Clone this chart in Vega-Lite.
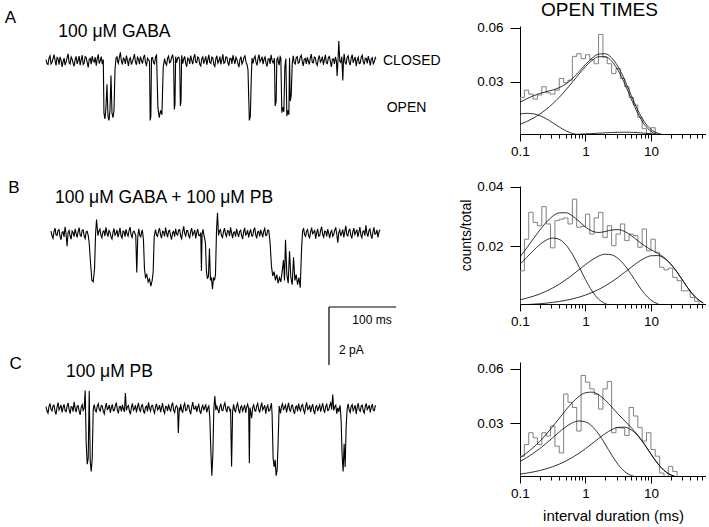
{
"$schema": "https://vega.github.io/schema/vega-lite/v6.json",
"padding": 0,
"spacing": 8,
"config": {
 "view": {"stroke": null},
 "font": "Liberation Sans",
 "axis": {"grid": false, "domainColor": "black", "tickColor": "black", "labelColor": "black", "titleColor": "black", "labelFontSize": 13.5, "titleFontSize": 14, "titleFontWeight": "normal", "labelFont": "Liberation Sans", "titleFont": "Liberation Sans", "tickSize": 5, "labelPadding": 4}
},
"hconcat": [
 {"vconcat": [
  {"width": 450, "height": 160,
   "layer": [
    {"data": {"values": [
{"t":0,"v":0.05},{"t":1.5,"v":-0.09},{"t":3,"v":-0.12},{"t":4.5,"v":0.1},{"t":6,"v":0.18},{"t":7.5,"v":-0.1},{"t":9,"v":-0.05},{"t":10.5,"v":0.08},{"t":12,"v":0.22},{"t":13.5,"v":0.02},{"t":15,"v":-0.15},{"t":16.5,"v":0.12},{"t":18,"v":0.08},{"t":19.5,"v":-0.13},{"t":21,"v":0.14},{"t":22.5,"v":0.03},{"t":24,"v":-0.2},{"t":25.5,"v":-0.02},{"t":27,"v":0.1},{"t":28.5,"v":-0.14},{"t":30,"v":-0.03},{"t":31.5,"v":0.11},{"t":33,"v":0.25},{"t":34.5,"v":-0.06},{"t":36,"v":-0.1},{"t":37.5,"v":0.14},{"t":39,"v":0.06},{"t":40.5,"v":-0.08},{"t":42,"v":-0.18},{"t":43.5,"v":0.05},{"t":45,"v":0.16},{"t":46.5,"v":-0.1},{"t":48,"v":0.02},{"t":49.5,"v":0.17},{"t":51,"v":-0.14},{"t":52.5,"v":0.04},{"t":54,"v":0.2},{"t":55.5,"v":-0.12},{"t":57,"v":-0.07},{"t":58.5,"v":0.15},{"t":60,"v":0.12},{"t":61.5,"v":-0.05},{"t":63,"v":-0.22},{"t":64.5,"v":0.06},{"t":66,"v":0.09},{"t":67.5,"v":-0.11},{"t":69,"v":0.17},{"t":70.5,"v":0.0},{"t":72,"v":-0.04},{"t":73.5,"v":0.13},{"t":75,"v":-0.16},{"t":76.5,"v":0.08},{"t":78,"v":0.23},{"t":79.5,"v":-0.09},{"t":81,"v":0.01},{"t":82.5,"v":0.15},{"t":84,"v":-0.11},
{"t":85.5,"v":0.05},{"t":86.5,"v":-1.8},{"t":88,"v":-2.0},{"t":89.5,"v":-1.6},{"t":91,"v":-0.8},{"t":92.5,"v":-1.9},{"t":94,"v":-2.05},{"t":95.5,"v":-1.7},{"t":97,"v":-0.5},{"t":98.5,"v":-1.8},{"t":100,"v":-1.95},{"t":101.5,"v":-1.7},{"t":103,"v":-0.3},{"t":104.5,"v":0.1},
{"t":106,"v":0.15},{"t":107,"v":-0.02},{"t":108,"v":-0.08},{"t":109.5,"v":0.12},{"t":111,"v":0.3},{"t":112.5,"v":0.0},{"t":114,"v":-0.12},{"t":115.5,"v":0.1},{"t":117,"v":0.06},{"t":118.5,"v":-0.1},{"t":120,"v":0.19},{"t":121.5,"v":0.03},{"t":123,"v":-0.17},{"t":124.5,"v":0.06},{"t":126,"v":0.11},{"t":127.5,"v":-0.12},{"t":129,"v":-0.02},{"t":130.5,"v":0.1},{"t":132,"v":0.24},{"t":133.5,"v":-0.03},{"t":135,"v":-0.13},{"t":136.5,"v":0.13},{"t":138,"v":0.07},{"t":139.5,"v":-0.11},{"t":141,"v":0.15},{"t":142.5,"v":0.02},{"t":144,"v":-0.09},{"t":145.5,"v":0.12},{"t":147,"v":0.21},{"t":148.5,"v":-0.05},{"t":150,"v":-0.18},{"t":151.5,"v":0.1},{"t":153,"v":0.04},
{"t":154.5,"v":0.0},{"t":155.5,"v":-2.05},{"t":156.5,"v":-1.9},{"t":157.5,"v":0.1},{"t":159,"v":0.12},{"t":160.5,"v":-0.06},{"t":162,"v":-0.1},{"t":163.5,"v":0.14},{"t":165,"v":0.2},
{"t":167,"v":-1.6},{"t":169,"v":-1.95},{"t":171,"v":-1.7},{"t":173,"v":-1.85},{"t":175,"v":-0.2},
{"t":177,"v":0.08},{"t":178.5,"v":-0.08},{"t":180,"v":-0.14},{"t":181.5,"v":0.1},{"t":183,"v":0.17},{"t":184.5,"v":-0.06},{"t":186,"v":-0.03},{"t":187.5,"v":0.12},{"t":189,"v":0.22},
{"t":190.5,"v":0.0},{"t":191.5,"v":-1.67},{"t":192.5,"v":-1.5},{"t":193.5,"v":0.15},{"t":195,"v":-0.06},{"t":196.5,"v":0.1},{"t":198,"v":0.13},
{"t":199.5,"v":0.05},{"t":200.5,"v":-1.55},{"t":201.5,"v":-1.4},{"t":202.5,"v":0.2},
{"t":204,"v":-0.09},{"t":205.5,"v":0.06},{"t":207,"v":0.16},{"t":208.5,"v":-0.08},{"t":210,"v":-0.2},{"t":211.5,"v":0.1},{"t":213,"v":0.07},{"t":214.5,"v":-0.1},{"t":216,"v":0.19},{"t":217.5,"v":0.02},{"t":219,"v":-0.11},{"t":220.5,"v":0.12},{"t":222,"v":0.24},{"t":223.5,"v":-0.04},{"t":225,"v":-0.06},{"t":226.5,"v":0.14},{"t":228,"v":0.1},{"t":229.5,"v":-0.11},{"t":231,"v":-0.17},{"t":232.5,"v":0.08},{"t":234,"v":0.14},{"t":235.5,"v":-0.09},{"t":237,"v":0.03},{"t":238.5,"v":0.16},{"t":240,"v":-0.13},{"t":241.5,"v":0.04},{"t":243,"v":0.21},{"t":244.5,"v":-0.05},{"t":246,"v":-0.08},{"t":247.5,"v":0.13},{"t":249,"v":0.11},{"t":250.5,"v":-0.12},{"t":252,"v":-0.19},{"t":253.5,"v":0.07},{"t":255,"v":0.18},{"t":256.5,"v":-0.07},{"t":258,"v":0.0},{"t":259.5,"v":0.15},{"t":261,"v":-0.12},{"t":262.5,"v":0.05},{"t":264,"v":0.23},{"t":265.5,"v":-0.08},{"t":267,"v":-0.05},{"t":268.5,"v":0.14},{"t":270,"v":0.13},{"t":271.5,"v":-0.06},{"t":273,"v":-0.16},{"t":274.5,"v":0.09},{"t":276,"v":0.09},{"t":277.5,"v":-0.1},{"t":279,"v":0.2},{"t":280.5,"v":0.04},{"t":282,"v":-0.1},{"t":283.5,"v":0.13},{"t":285,"v":0.05},{"t":286.5,"v":-0.09},{"t":288,"v":-0.21},{"t":289.5,"v":0.06},{"t":291,"v":0.15},{"t":292.5,"v":-0.1},{"t":294,"v":-0.02},{"t":295.5,"v":0.12},{"t":297,"v":0.18},{"t":298.5,"v":-0.04},{"t":300,"v":-0.12},
{"t":301.5,"v":-0.3},{"t":302.5,"v":-1.2},{"t":303.5,"v":-2.05},{"t":305,"v":-1.9},{"t":306.5,"v":-0.5},{"t":307.5,"v":0.1},
{"t":309,"v":-0.08},{"t":310.5,"v":0.1},{"t":312,"v":0.17},{"t":313.5,"v":-0.05},{"t":315,"v":-0.15},{"t":316.5,"v":0.09},{"t":318,"v":0.22},{"t":319.5,"v":-0.03},{"t":321,"v":0.04},{"t":322.5,"v":0.15},{"t":324,"v":-0.11},{"t":325.5,"v":0.06},{"t":327,"v":0.14},{"t":328.5,"v":-0.08},{"t":330,"v":-0.19},{"t":331.5,"v":0.07},{"t":333,"v":0.08},{"t":334.5,"v":-0.1},{"t":336,"v":0.21},{"t":337.5,"v":0.02},{"t":339,"v":-0.07},
{"t":341,"v":0.1},{"t":342,"v":-1.55},{"t":343.5,"v":-1.4},{"t":344.5,"v":0.05},{"t":346,"v":0.12},{"t":347,"v":-0.06},{"t":348,"v":-0.14},{"t":349.5,"v":0.15},{"t":350.5,"v":0.1},
{"t":352,"v":-1.78},{"t":353.5,"v":-1.6},{"t":355,"v":-1.75},{"t":356.5,"v":-0.2},{"t":358,"v":0.08},
{"t":359.5,"v":-1.9},{"t":361,"v":-1.7},{"t":362.5,"v":-1.85},{"t":363.5,"v":0.1},{"t":364.5,"v":-1.38},{"t":366,"v":-1.2},{"t":367.5,"v":-0.1},
{"t":369,"v":0.18},{"t":370.5,"v":-0.06},{"t":372,"v":-0.1},{"t":373.5,"v":0.12},{"t":375,"v":0.15},{"t":376.5,"v":-0.08},{"t":378,"v":-0.04},{"t":379.5,"v":0.13},{"t":381,"v":0.2},{"t":382.5,"v":-0.02},{"t":384,"v":-0.17},{"t":385.5,"v":0.07},{"t":387,"v":0.09},{"t":388.5,"v":-0.1},{"t":390,"v":0.13},{"t":391.5,"v":0.0},{"t":393,"v":-0.12},{"t":394.5,"v":0.1},{"t":396,"v":0.24},{"t":397.5,"v":-0.05},{"t":399,"v":-0.06},{"t":400.5,"v":0.14},{"t":402,"v":0.11},{"t":403.5,"v":-0.09},{"t":405,"v":-0.15},{"t":406.5,"v":0.08},{"t":408,"v":0.19},{"t":409.5,"v":-0.04},{"t":411,"v":0.02},{"t":412.5,"v":0.15},{"t":414,"v":-0.13},{"t":415.5,"v":0.05},{"t":417,"v":0.21},{"t":418.5,"v":-0.07},{"t":420,"v":-0.09},{"t":421.5,"v":0.12},{"t":423,"v":0.16},{"t":424.5,"v":-0.03},{"t":426,"v":-0.2},{"t":427.5,"v":0.06},{"t":429,"v":0.07},{"t":430.5,"v":-0.1},{"t":432,"v":0.14},{"t":433.5,"v":0.0},{"t":434.5,"v":-0.52},{"t":436,"v":0.1},{"t":437,"v":0.69},{"t":438.5,"v":0.0},{"t":440,"v":-0.05},{"t":441.5,"v":0.15},{"t":443,"v":-0.67},{"t":444,"v":0.0},{"t":445,"v":0.25},{"t":446.5,"v":-0.06},{"t":448,"v":-0.1},{"t":449.5,"v":0.12},{"t":451,"v":0.18},{"t":452.5,"v":-0.04},{"t":454,"v":-0.14},{"t":455.5,"v":0.1},{"t":457,"v":0.22},{"t":458.5,"v":-0.06},{"t":460,"v":0.05},{"t":461.5,"v":0.14},{"t":463,"v":-0.18},{"t":464.5,"v":0.04},{"t":466,"v":0.13},{"t":467.5,"v":-0.09},{"t":469,"v":-0.07},{"t":470.5,"v":0.13},{"t":472,"v":0.2},{"t":473.5,"v":-0.02},{"t":475,"v":-0.12},{"t":476.5,"v":0.1},{"t":478,"v":0.09},{"t":479.5,"v":-0.08},{"t":481,"v":0.17},{"t":482.5,"v":0.03},{"t":484,"v":-0.15},{"t":485.5,"v":0.07},{"t":487,"v":0.11},{"t":488.5,"v":-0.1},{"t":490,"v":-0.04},{"t":491.5,"v":0.12},{"t":492.5,"v":0.08}
    ]},
     "mark": {"type": "line", "color": "black", "strokeWidth": 1.1},
     "encoding": {
      "x": {"field": "t", "type": "quantitative", "scale": {"domain": [-68.66, 603.0], "nice": false, "zero": false}, "axis": null},
      "y": {"field": "v", "type": "quantitative", "scale": {"domain": [-3.448, 2.069], "nice": false, "zero": false}, "axis": null}
     }},
    {"data": {"values": [{}]}, "mark": {"type": "text", "text": "A", "fontSize": 17, "align": "center", "baseline": "middle"}, "encoding": {"x": {"datum": -53}, "y": {"datum": 1.466}}},
    {"data": {"values": [{}]}, "mark": {"type": "text", "text": "100 μM GABA", "fontSize": 17.5, "align": "left", "baseline": "middle"}, "encoding": {"x": {"datum": 18.4}, "y": {"datum": 1.0}}},
    {"data": {"values": [{}]}, "mark": {"type": "text", "text": "CLOSED", "fontSize": 14, "align": "left", "baseline": "middle"}, "encoding": {"x": {"datum": 503}, "y": {"datum": 0}}},
    {"data": {"values": [{}]}, "mark": {"type": "text", "text": "OPEN", "fontSize": 14, "align": "left", "baseline": "middle"}, "encoding": {"x": {"datum": 508.5}, "y": {"datum": -1.631}}}
   ]},
  {"width": 450, "height": 180,
   "layer": [
    {"data": {"values": [
{"t":0,"v":0.1},{"t":1.5,"v":-0.06},{"t":3,"v":-0.15},{"t":4.5,"v":0.08},{"t":6,"v":0.2},{"t":7.5,"v":-0.03},{"t":9,"v":-0.05},{"t":10.5,"v":0.12},{"t":12,"v":0.15},{"t":13.5,"v":-0.08},{"t":15,"v":-0.2},{"t":16.5,"v":0.06},{"t":18,"v":0.08},{"t":19.5,"v":-0.1},{"t":21,"v":0.25},{"t":22.5,"v":0.0},{"t":24,"v":-0.42},{"t":25.5,"v":0.05},{"t":27,"v":0.12},{"t":28.5,"v":-0.07},{"t":30,"v":-0.18},{"t":31.5,"v":0.1},{"t":33,"v":0.05},{"t":34.5,"v":-0.09},{"t":36,"v":0.18},{"t":37.5,"v":0.02},{"t":39,"v":-0.12},{"t":40.5,"v":0.09},{"t":42,"v":0.22},{"t":43.5,"v":-0.04},{"t":45,"v":-0.08},{"t":46.5,"v":0.13},{"t":48,"v":0.14},{"t":49.5,"v":-0.07},{"t":51,"v":-0.16},{"t":52.5,"v":0.07},{"t":54,"v":0.09},{"t":55.5,"v":-0.05},
{"t":57,"v":-0.3},{"t":59,"v":-1.0},{"t":61,"v":-1.6},{"t":63,"v":-1.65},{"t":65,"v":-1.2},{"t":66.5,"v":0.0},{"t":68,"v":0.5},
{"t":70,"v":-0.06},{"t":71.5,"v":0.1},{"t":73,"v":0.17},{"t":74.5,"v":-0.05},{"t":76,"v":-0.13},{"t":77.5,"v":0.08},{"t":79,"v":0.11},{"t":80.5,"v":-0.07},{"t":82,"v":0.23},{"t":83.5,"v":0.03},{"t":85,"v":-0.09},{"t":86.5,"v":0.12},{"t":88,"v":0.06},{"t":89.5,"v":-0.1},{"t":91,"v":-0.17},{"t":92.5,"v":0.05},{"t":94,"v":0.19},{"t":95.5,"v":-0.04},{"t":97,"v":0.02},{"t":98.5,"v":0.14},{"t":100,"v":-0.11},{"t":101.5,"v":0.04},{"t":103,"v":0.21},{"t":104.5,"v":-0.06},{"t":106,"v":-0.14},{"t":107.5,"v":0.1},{"t":109,"v":0.08},{"t":110.5,"v":-0.09},{"t":112,"v":0.16},{"t":113.5,"v":0.01},{"t":115,"v":-0.07},{"t":116.5,"v":0.12},{"t":118,"v":0.24},{"t":119.5,"v":-0.03},{"t":121,"v":-0.12},{"t":122.5,"v":0.07},{"t":124,"v":0.1},
{"t":126.5,"v":-0.05},{"t":128,"v":-1.33},{"t":129.5,"v":-0.1},{"t":131,"v":0.18},{"t":132.5,"v":-0.05},{"t":134,"v":-0.1},{"t":135.5,"v":0.1},{"t":136.5,"v":0.12},
{"t":138,"v":-0.2},{"t":139.5,"v":-1.2},{"t":141,"v":-1.5},{"t":143,"v":-1.4},{"t":145,"v":-1.65},{"t":147,"v":-1.55},{"t":149,"v":-1.8},{"t":151,"v":-1.6},{"t":152.5,"v":-1.3},{"t":154,"v":-0.1},
{"t":156,"v":0.15},{"t":157.5,"v":-0.04},{"t":159,"v":-0.08},{"t":160.5,"v":0.1},{"t":162,"v":0.2},{"t":163.5,"v":-0.02},{"t":165,"v":-0.14},{"t":166.5,"v":0.09},{"t":168,"v":0.07},{"t":169.5,"v":-0.08},{"t":171,"v":0.22},{"t":172.5,"v":0.04},{"t":174,"v":-0.11},{"t":175.5,"v":0.1},{"t":177,"v":0.13},{"t":178.5,"v":-0.06},{"t":180,"v":-0.19},{"t":181.5,"v":0.05},{"t":183,"v":0.09},{"t":184.5,"v":-0.09},{"t":186,"v":0.18},{"t":187.5,"v":0.0},{"t":189,"v":-0.04},{"t":190.5,"v":0.13},{"t":192,"v":0.15},{"t":193.5,"v":-0.07},{"t":195,"v":-0.16},{"t":196.5,"v":0.08},{"t":198,"v":0.26},{"t":199.5,"v":0.02},{"t":201,"v":-0.07},{"t":202.5,"v":0.11},{"t":204,"v":0.12},{"t":205.5,"v":-0.06},{"t":207,"v":-0.13},{"t":208.5,"v":0.09},{"t":210,"v":0.2},{"t":211.5,"v":-0.04},{"t":213,"v":0.03},{"t":214.5,"v":0.14},{"t":216,"v":-0.15},{"t":217.5,"v":0.05},{"t":219,"v":0.17},{"t":220.5,"v":-0.05},{"t":222,"v":-0.06},
{"t":223.5,"v":0.05},{"t":224.5,"v":-1.28},{"t":225.5,"v":0.0},{"t":227,"v":0.16},{"t":228,"v":-0.02},{"t":229,"v":-0.12},
{"t":230.5,"v":-0.3},{"t":232,"v":-1.3},{"t":233.5,"v":-1.55},{"t":235,"v":-1.45},{"t":236.5,"v":-0.5},{"t":238,"v":-1.6},{"t":239.5,"v":-1.5},{"t":241,"v":-1.9},{"t":242.5,"v":-1.5},{"t":244,"v":-1.6},{"t":245.5,"v":-1.4},{"t":247,"v":0.1},{"t":248.5,"v":0.73},
{"t":250,"v":-0.05},{"t":251.5,"v":0.11},{"t":253,"v":0.15},{"t":254.5,"v":-0.06},{"t":256,"v":-0.12},{"t":257.5,"v":0.08},{"t":259,"v":0.2},{"t":260.5,"v":0.0},{"t":262,"v":-0.08},{"t":263.5,"v":0.12},{"t":265,"v":0.1},{"t":266.5,"v":-0.07},{"t":268,"v":0.23},{"t":269.5,"v":0.04},{"t":271,"v":-0.14},{"t":272.5,"v":0.06},{"t":274,"v":0.07},{"t":275.5,"v":-0.09},{"t":277,"v":0.18},{"t":278.5,"v":0.02},{"t":280,"v":-0.1},{"t":281.5,"v":0.09},{"t":283,"v":0.13},{"t":284.5,"v":-0.05},{"t":286,"v":-0.18},{"t":287.5,"v":0.07},{"t":289,"v":0.21},{"t":290.5,"v":-0.03},{"t":292,"v":0.01},{"t":293.5,"v":0.13},{"t":295,"v":-0.12},{"t":296.5,"v":0.05},{"t":298,"v":0.16},{"t":299.5,"v":-0.06},{"t":301,"v":-0.07},{"t":302.5,"v":0.12},{"t":304,"v":0.22},{"t":305.5,"v":-0.02},{"t":307,"v":-0.15},{"t":308.5,"v":0.07},{"t":310,"v":0.09},{"t":311.5,"v":-0.08},{"t":313,"v":0.14},{"t":314.5,"v":0.03},{"t":316,"v":-0.11},{"t":317.5,"v":0.1},{"t":319,"v":0.19},{"t":320.5,"v":-0.05},{"t":322,"v":-0.04},{"t":323.5,"v":0.13},{"t":325,"v":0.12},
{"t":327,"v":-0.3},{"t":329,"v":-1.1},{"t":331,"v":-1.45},{"t":333,"v":-1.3},{"t":335,"v":-1.6},{"t":337,"v":-1.4},{"t":339,"v":-1.7},{"t":341,"v":-1.5},{"t":343,"v":-1.65},{"t":345,"v":-1.3},{"t":347,"v":-0.9},{"t":348.5,"v":-1.6},{"t":350,"v":-0.2},{"t":352,"v":-1.4},{"t":354,"v":-1.7},{"t":356,"v":-0.6},{"t":358,"v":-1.5},{"t":360,"v":-1.75},{"t":362,"v":-0.8},{"t":364,"v":-1.6},{"t":366,"v":-1.4},{"t":368,"v":-1.75},{"t":370,"v":-1.5},{"t":372,"v":-1.85},{"t":374,"v":-0.5},{"t":375.5,"v":0.1},
{"t":377,"v":0.2},{"t":378.5,"v":-0.03},{"t":380,"v":-0.08},{"t":381.5,"v":0.1},{"t":383,"v":0.15},{"t":384.5,"v":-0.06},{"t":386,"v":-0.13},{"t":387.5,"v":0.07},{"t":389,"v":0.22},{"t":390.5,"v":0.01},{"t":392,"v":0.05},{"t":393.5,"v":0.14},{"t":395,"v":-0.16},{"t":396.5,"v":0.04},{"t":398,"v":0.18},{"t":399.5,"v":-0.07},{"t":401,"v":-0.06},{"t":402.5,"v":0.13},{"t":404,"v":0.25},{"t":405.5,"v":-0.02},{"t":407,"v":-0.11},{"t":408.5,"v":0.1},{"t":410,"v":0.09},{"t":411.5,"v":-0.08},{"t":413,"v":0.17},{"t":414.5,"v":0.02},{"t":416,"v":-0.14},{"t":417.5,"v":0.06},{"t":419,"v":0.12},{"t":420.5,"v":-0.08},{"t":422,"v":-0.02},{"t":423.5,"v":0.14},{"t":425,"v":0.21},{"t":426.5,"v":0.0},{"t":428,"v":-0.3},{"t":429.5,"v":0.05},{"t":431,"v":0.14},{"t":432.5,"v":-0.07},{"t":434,"v":0.03},{"t":435.5,"v":0.15},{"t":437,"v":-0.12},{"t":438.5,"v":0.08},{"t":440,"v":0.28},{"t":441.5,"v":-0.03},{"t":443,"v":-0.07},{"t":444.5,"v":0.12},{"t":446,"v":0.16},{"t":447.5,"v":-0.05},{"t":449,"v":-0.15},{"t":450.5,"v":0.08},{"t":452,"v":0.2},{"t":453.5,"v":-0.02},{"t":455,"v":0.06},{"t":456.5,"v":0.15},{"t":458,"v":-0.1},{"t":459.5,"v":0.06},{"t":461,"v":0.24},{"t":462.5,"v":-0.04},{"t":464,"v":-0.13},{"t":465.5,"v":0.09},{"t":467,"v":0.11},{"t":468.5,"v":-0.06},{"t":470,"v":0.3},{"t":471.5,"v":0.02},{"t":473,"v":-0.09},{"t":474.5,"v":0.12},{"t":476,"v":0.17},{"t":477.5,"v":-0.05},{"t":479,"v":-0.16},{"t":480.5,"v":0.07},{"t":482,"v":0.23},{"t":483.5,"v":-0.01},{"t":485,"v":0.02},{"t":486.5,"v":0.14},{"t":488,"v":-0.12},{"t":489.5,"v":0.06},{"t":491,"v":0.15}
    ]},
     "mark": {"type": "line", "color": "black", "strokeWidth": 1.1},
     "encoding": {
      "x": {"field": "t", "type": "quantitative", "scale": {"domain": [-76.12, 595.52], "nice": false, "zero": false}, "axis": null},
      "y": {"field": "v", "type": "quantitative", "scale": {"domain": [-3.69, 2.517], "nice": false, "zero": false}, "axis": null}
     }},
    {"data": {"values": [{}]}, "mark": {"type": "text", "text": "B", "fontSize": 17, "align": "center", "baseline": "middle"}, "encoding": {"x": {"datum": -55.2}, "y": {"datum": 1.596}}},
    {"data": {"values": [{}]}, "mark": {"type": "text", "text": "100 μM GABA + 100 μM PB", "fontSize": 17.5, "align": "left", "baseline": "middle"}, "encoding": {"x": {"datum": 6.0}, "y": {"datum": 1.224}}},
    {"data": {"values": [{}]}, "mark": {"type": "rule", "color": "black", "strokeWidth": 1.2}, "encoding": {"x": {"datum": 414.9}, "x2": {"datum": 514.9}, "y": {"datum": -2.517}}},
    {"data": {"values": [{}]}, "mark": {"type": "rule", "color": "black", "strokeWidth": 1.2}, "encoding": {"x": {"datum": 414.9}, "y": {"datum": -2.517}, "y2": {"datum": -4.517}}},
    {"data": {"values": [{}]}, "mark": {"type": "text", "text": "100 ms", "fontSize": 12, "align": "left", "baseline": "middle"}, "encoding": {"x": {"datum": 449.7}, "y": {"datum": -2.983}}},
    {"data": {"values": [{}]}, "mark": {"type": "text", "text": "2 pA", "fontSize": 12, "align": "left", "baseline": "middle"}, "encoding": {"x": {"datum": 429.9}, "y": {"datum": -4.0}}}
   ]},
  {"width": 450, "height": 187,
   "layer": [
    {"data": {"values": [
{"t":0,"v":0.08},{"t":1.5,"v":-0.07},{"t":3,"v":-0.14},{"t":4.5,"v":0.09},{"t":6,"v":0.19},{"t":7.5,"v":-0.02},{"t":9,"v":-0.06},{"t":10.5,"v":0.11},{"t":12,"v":0.13},{"t":13.5,"v":-0.08},{"t":15,"v":-0.19},{"t":16.5,"v":0.07},{"t":18,"v":0.22},{"t":19.5,"v":-0.03},{"t":21,"v":0.04},{"t":22.5,"v":0.14},{"t":24,"v":-0.12},{"t":25.5,"v":0.05},{"t":27,"v":0.16},{"t":28.5,"v":-0.06},{"t":30,"v":-0.09},{"t":31.5,"v":0.1},{"t":33,"v":0.21},{"t":34.5,"v":-0.02},{"t":36,"v":-0.16},{"t":37.5,"v":0.08},{"t":39,"v":0.07},{"t":40.5,"v":-0.09},{"t":42,"v":0.25},{"t":43.5,"v":0.02},{"t":45,"v":-0.11},{"t":46.5,"v":0.1},{"t":48,"v":0.12},{"t":49.5,"v":-0.07},{"t":51,"v":-0.2},{"t":52.5,"v":0.06},{"t":54,"v":0.15},{"t":55.5,"v":-0.05},{"t":57,"v":0.02},
{"t":58.5,"v":0.64},{"t":60,"v":-1.2},{"t":61.5,"v":-1.9},{"t":63,"v":-1.7},{"t":64.5,"v":0.62},{"t":66,"v":-1.8},{"t":67.5,"v":-2.15},{"t":69,"v":-1.7},{"t":70.5,"v":0.0},
{"t":72,"v":0.15},{"t":73.5,"v":-0.05},{"t":75,"v":-0.1},{"t":76.5,"v":0.1},{"t":78,"v":0.18},{"t":79.5,"v":-0.03},{"t":81,"v":-0.07},{"t":82.5,"v":0.12},{"t":84,"v":0.11},{"t":85.5,"v":-0.08},{"t":87,"v":-0.17},{"t":88.5,"v":0.06},{"t":90,"v":0.2},{"t":91.5,"v":-0.02},{"t":93,"v":0.03},{"t":94.5,"v":0.14},{"t":96,"v":-0.13},{"t":97.5,"v":0.05},{"t":99,"v":0.16},{"t":100.5,"v":-0.06},{"t":102,"v":-0.05},{"t":103.5,"v":0.12},{"t":105,"v":0.22},{"t":106.5,"v":-0.04},{"t":108,"v":-0.15},{"t":109.5,"v":0.08},{"t":111,"v":0.09},{"t":112.5,"v":-0.08},{"t":114,"v":0.14},{"t":115.5,"v":0.0},{"t":117,"v":-0.1},{"t":118.5,"v":0.55},{"t":120,"v":-0.05},{"t":121.5,"v":0.08},{"t":123,"v":0.12},{"t":124.5,"v":-0.07},{"t":126,"v":-0.18},{"t":127.5,"v":0.06},{"t":129,"v":0.19},{"t":130.5,"v":-0.04},{"t":132,"v":0.01},{"t":133.5,"v":0.13},{"t":135,"v":-0.12},{"t":136.5,"v":0.07},{"t":138,"v":0.21},{"t":139.5,"v":-0.03},{"t":141,"v":-0.08},{"t":142.5,"v":0.11},{"t":144,"v":0.15},{"t":145.5,"v":-0.06},{"t":147,"v":-0.16},{"t":148.5,"v":0.07},{"t":150,"v":0.1},{"t":151.5,"v":-0.08},{"t":153,"v":0.23},{"t":154.5,"v":0.02},{"t":156,"v":-0.07},{"t":157.5,"v":0.11},{"t":159,"v":0.13},{"t":160.5,"v":-0.05},{"t":162,"v":-0.14},{"t":163.5,"v":0.08},{"t":165,"v":0.18},{"t":166.5,"v":-0.03},{"t":168,"v":0.02},{"t":169.5,"v":0.13},{"t":171,"v":-0.11},{"t":172.5,"v":0.04},{"t":174,"v":0.2},{"t":175.5,"v":-0.06},{"t":177,"v":-0.15},{"t":178.5,"v":0.09},{"t":180,"v":0.08},{"t":181.5,"v":-0.07},{"t":183,"v":0.16},{"t":184.5,"v":0.01},{"t":186,"v":-0.09},{"t":187.5,"v":0.12},{"t":189,"v":0.22},{"t":190.5,"v":-0.04},{"t":192,"v":-0.12},{"t":193.5,"v":0.08},{"t":195,"v":0.11},{"t":196.5,"v":0.0},{"t":197.5,"v":-0.83},{"t":199,"v":0.05},{"t":200,"v":-0.06},{"t":201,"v":0.17},{"t":202.5,"v":-0.03},{"t":204,"v":-0.13},{"t":205.5,"v":0.1},{"t":207,"v":0.19},{"t":208.5,"v":-0.05},{"t":210,"v":-0.04},{"t":211.5,"v":0.13},{"t":213,"v":0.12},{"t":214.5,"v":-0.07},{"t":216,"v":-0.18},{"t":217.5,"v":0.07},{"t":219,"v":0.24},{"t":220.5,"v":0.01},{"t":222,"v":0.0},{"t":223.5,"v":0.12},{"t":225,"v":-0.1},{"t":226.5,"v":0.06},{"t":228,"v":0.15},{"t":229.5,"v":-0.06},{"t":231,"v":-0.17},{"t":232.5,"v":0.05},{"t":234,"v":0.13},{"t":235.5,"v":-0.05},{"t":237,"v":0.06},{"t":238.5,"v":0.14},{"t":240,"v":-0.12},{"t":241.5,"v":0.03},{"t":243,"v":0.1},
{"t":244.5,"v":-0.3},{"t":246,"v":-1.4},{"t":247.5,"v":-2.3},{"t":249,"v":-1.6},{"t":250.5,"v":0.0},{"t":252,"v":0.45},
{"t":253.5,"v":-0.04},{"t":255,"v":0.1},{"t":256.5,"v":-0.02},{"t":258,"v":-0.14},{"t":259.5,"v":0.07},{"t":261,"v":0.18},{"t":262.5,"v":-0.04},{"t":264,"v":-0.06},{"t":265.5,"v":0.12},{"t":267,"v":0.21},{"t":268.5,"v":0.0},{"t":270,"v":-0.11},{"t":271.5,"v":0.08},{"t":273,"v":0.07},{"t":274.5,"v":-0.06},{"t":275.5,"v":0.0},{"t":277,"v":-1.98},{"t":278.5,"v":-0.1},{"t":280,"v":0.16},{"t":281.5,"v":-0.04},{"t":283,"v":-0.09},{"t":284.5,"v":0.11},{"t":286,"v":0.2},{"t":287.5,"v":-0.02},{"t":289,"v":-0.15},{"t":290.5,"v":0.06},{"t":292,"v":0.11},{"t":293.5,"v":-0.07},{"t":295,"v":0.03},{"t":296.5,"v":0.14},{"t":298,"v":-0.13},{"t":299.5,"v":0.06},{"t":301,"v":0.17},{"t":302.5,"v":0.0},{"t":303.5,"v":-1.87},{"t":304.5,"v":0.05},{"t":305.5,"v":-0.1},{"t":307,"v":-0.32},{"t":308.5,"v":0.06},{"t":310,"v":0.14},{"t":311.5,"v":-0.05},{"t":313,"v":-0.08},{"t":314.5,"v":0.11},{"t":316,"v":0.19},{"t":317.5,"v":-0.02},{"t":319,"v":-0.12},{"t":320.5,"v":0.08},{"t":322,"v":0.22},{"t":323.5,"v":-0.03},{"t":325,"v":0.04},{"t":326.5,"v":0.13},{"t":328,"v":-0.16},{"t":329.5,"v":0.05},{"t":331,"v":0.13},{"t":332.5,"v":-0.07},{"t":334,"v":-0.05},
{"t":336.5,"v":0.2},{"t":337.5,"v":-0.2},{"t":339,"v":-1.7},{"t":340.5,"v":-2.0},{"t":342,"v":-1.75},{"t":343.5,"v":-2.3},{"t":345,"v":-2.1},{"t":346.5,"v":-1.1},{"t":348,"v":0.1},
{"t":350,"v":-0.15},{"t":351.5,"v":0.09},{"t":353,"v":0.18},{"t":354.5,"v":-0.04},{"t":356,"v":0.06},{"t":357.5,"v":0.14},{"t":359,"v":-0.12},{"t":360.5,"v":0.05},{"t":362,"v":0.21},{"t":363.5,"v":-0.03},{"t":365,"v":-0.08},{"t":366.5,"v":0.11},{"t":368,"v":0.14},{"t":369.5,"v":-0.06},{"t":371,"v":-0.17},{"t":372.5,"v":0.07},{"t":374,"v":0.1},{"t":375.5,"v":-0.08},{"t":377,"v":0.19},{"t":378.5,"v":0.01},{"t":380,"v":-0.06},{"t":381.5,"v":0.12},{"t":383,"v":0.15},{"t":384.5,"v":-0.05},{"t":386,"v":-0.14},{"t":387.5,"v":0.08},{"t":389,"v":0.23},{"t":390.5,"v":-0.02},{"t":392,"v":0.02},{"t":393.5,"v":0.13},{"t":395,"v":-0.11},{"t":396.5,"v":0.06},{"t":398,"v":0.17},{"t":399.5,"v":-0.05},{"t":401,"v":-0.18},{"t":402.5,"v":0.07},{"t":404,"v":0.12},{"t":405.5,"v":-0.07},{"t":407,"v":0.05},{"t":408.5,"v":0.14},{"t":410,"v":-0.09},{"t":411.5,"v":0.06},{"t":413,"v":0.2},{"t":414.5,"v":-0.03},{"t":416,"v":-0.13},{"t":417.5,"v":0.09},{"t":419,"v":0.16},{"t":420.5,"v":-0.05},{"t":422,"v":-0.04},{"t":423.5,"v":0.12},{"t":425,"v":0.21},{"t":426.5,"v":-0.02},{"t":428,"v":0.5},{"t":429.5,"v":-0.05},{"t":431,"v":0.08},{"t":432.5,"v":0.13},{"t":434,"v":-0.16},{"t":435.5,"v":0.04},{"t":437,"v":-0.1},{"t":438,"v":0.05},{"t":439,"v":0.12},
{"t":440.5,"v":-0.4},{"t":442,"v":-1.6},{"t":443.5,"v":-2.15},{"t":445,"v":-1.2},{"t":446.5,"v":-2.0},{"t":448,"v":-0.6},{"t":449.5,"v":0.0},
{"t":451,"v":0.18},{"t":452.5,"v":-0.04},{"t":454,"v":-0.12},{"t":455.5,"v":0.09},{"t":457,"v":0.15},{"t":458.5,"v":-0.06},{"t":460,"v":0.03},{"t":461.5,"v":0.13},{"t":463,"v":-0.17},{"t":464.5,"v":0.06},{"t":466,"v":0.2},{"t":467.5,"v":-0.03},{"t":469,"v":-0.08},{"t":470.5,"v":0.11},{"t":472,"v":0.13},{"t":473.5,"v":-0.06},{"t":475,"v":-0.14},{"t":476.5,"v":0.08},{"t":478,"v":0.19},{"t":479.5,"v":-0.02},{"t":481,"v":0.04},{"t":482.5,"v":0.13},{"t":484,"v":-0.12},{"t":485.5,"v":0.06},{"t":487,"v":0.17},{"t":488.5,"v":-0.04},{"t":490,"v":-0.06},{"t":491.5,"v":0.11},{"t":492.5,"v":0.1}
    ]},
     "mark": {"type": "line", "color": "black", "strokeWidth": 1.1},
     "encoding": {
      "x": {"field": "t", "type": "quantitative", "scale": {"domain": [-68.66, 603.0], "nice": false, "zero": false}, "axis": null},
      "y": {"field": "v", "type": "quantitative", "scale": {"domain": [-4.103, 2.345], "nice": false, "zero": false}, "axis": null}
     }},
    {"data": {"values": [{}]}, "mark": {"type": "text", "text": "C", "fontSize": 17, "align": "center", "baseline": "middle"}, "encoding": {"x": {"datum": -45.5}, "y": {"datum": 1.552}}},
    {"data": {"values": [{}]}, "mark": {"type": "text", "text": "100 μM PB", "fontSize": 17.5, "align": "left", "baseline": "middle"}, "encoding": {"x": {"datum": 29.9}, "y": {"datum": 1.283}}}
   ]}
 ], "spacing": 0, "bounds": "flush"},
 {"vconcat": [
  {"width": 186, "height": 25, "data": {"values": [{}]}, "mark": {"type": "text", "text": ""}},
  {"width": 186, "height": 108,
   "title": {"text": "OPEN TIMES", "fontSize": 19, "fontWeight": "normal", "color": "black", "dx": -13.5, "offset": 1},
   "encoding": {
    "x": {"field": "t", "type": "quantitative", "scale": {"type": "log", "domain": [0.1, 69.5], "nice": false},
     "axis": {"values": [0.1,0.2,0.3,0.4,0.5,0.6,0.7,0.8,0.9,1,2,3,4,5,6,7,8,9,10,20,30,40,50,60], "title": null, "labelOverlap": false, "labelFlush": false, "labelPadding": 3,
      "labelExpr": "datum.value == 0.1 ? '0.1' : datum.value == 1 ? '1' : datum.value == 10 ? '10' : ''",
      "tickSize": {"condition": {"test": "datum.value == 0.1 || datum.value == 1 || datum.value == 10", "value": 7}, "value": 4}}},
    "y": {"field": "v", "type": "quantitative", "scale": {"domain": [0.001, 0.0611], "nice": false, "zero": false}, "axis": {"values": [0.03, 0.06], "format": ".2f", "title": null, "tickSize": 10, "labelPadding": 7}}
   },
   "layer": [
    {"data": {"values": [
{"t":0.1,"v":0},{"t":0.1,"v":0.0214},{"t":0.11659,"v":0.0254},{"t":0.13594,"v":0.0232},{"t":0.15849,"v":0.0204},{"t":0.18478,"v":0.0227},{"t":0.21544,"v":0.0273},{"t":0.25119,"v":0.0239},{"t":0.29286,"v":0.0232},{"t":0.34146,"v":0.0254},{"t":0.39811,"v":0.0319},{"t":0.46416,"v":0.0295},{"t":0.54117,"v":0.0309},{"t":0.63096,"v":0.0442},{"t":0.73564,"v":0.0457},{"t":0.8577,"v":0.0429},{"t":1.0,"v":0.0451},{"t":1.1659,"v":0.0424},{"t":1.3594,"v":0.0401},{"t":1.5849,"v":0.0564},{"t":1.8478,"v":0.0438},{"t":2.1544,"v":0.0401},{"t":2.5119,"v":0.0346},{"t":2.9286,"v":0.0374},{"t":3.4146,"v":0.0319},{"t":3.9811,"v":0.0273},{"t":4.6416,"v":0.0214},{"t":5.4117,"v":0.0171},{"t":6.3096,"v":0.0103},{"t":7.3564,"v":0.004},{"t":8.577,"v":0.001},{"t":10.0,"v":0.0045},{"t":11.659,"v":0}
    ]},
     "mark": {"type": "line", "interpolate": "step-after", "color": "#808080", "strokeWidth": 1, "clip": true},
     "encoding": {"order": {"value": null}}},
    {"data": {"values": [
{"t":0.1,"c1":0.01211,"c2":0.00636,"c3":0.00013,"tot":0.0186},
{"t":0.1259,"c1":0.01249,"c2":0.0079,"c3":0.00017,"tot":0.02056},
{"t":0.1585,"c1":0.01224,"c2":0.00976,"c3":0.00021,"tot":0.02221},
{"t":0.1995,"c1":0.01124,"c2":0.01201,"c3":0.00026,"tot":0.02351},
{"t":0.2512,"c1":0.00951,"c2":0.01469,"c3":0.00032,"tot":0.02452},
{"t":0.3162,"c1":0.00726,"c2":0.01783,"c3":0.0004,"tot":0.02549},
{"t":0.3981,"c1":0.00487,"c2":0.02144,"c3":0.00049,"tot":0.0268},
{"t":0.5012,"c1":0.00278,"c2":0.02548,"c3":0.0006,"tot":0.02886},
{"t":0.631,"c1":0.00129,"c2":0.02984,"c3":0.00073,"tot":0.03186},
{"t":0.7943,"c1":0.00046,"c2":0.03428,"c3":0.00089,"tot":0.03563},
{"t":1.0,"c1":0.00012,"c2":0.03848,"c3":0.00106,"tot":0.03966},
{"t":1.259,"c1":0.00002,"c2":0.04192,"c3":0.00125,"tot":0.04319},
{"t":1.585,"c1":0,"c2":0.04399,"c3":0.00145,"tot":0.04544},
{"t":1.995,"c1":0,"c2":0.04403,"c3":0.00165,"tot":0.04568},
{"t":2.512,"c1":0,"c2":0.04154,"c3":0.00182,"tot":0.04336},
{"t":3.162,"c1":0,"c2":0.03636,"c3":0.00195,"tot":0.03831},
{"t":3.981,"c1":0,"c2":0.02898,"c3":0.002,"tot":0.03098},
{"t":5.012,"c1":0,"c2":0.0205,"c3":0.00195,"tot":0.02245},
{"t":6.31,"c1":0,"c2":0.01251,"c3":0.00177,"tot":0.01428},
{"t":7.943,"c1":0,"c2":0.00632,"c3":0.00148,"tot":0.0078},
{"t":10.0,"c1":0,"c2":0.00252,"c3":0.00112,"tot":0.00364},
{"t":12.59,"c1":0,"c2":0.00075,"c3":0.00074,"tot":0.00149},
{"t":15.85,"c1":0,"c2":0.00015,"c3":0.00041,"tot":0.00056},
{"t":19.95,"c1":0,"c2":0.00002,"c3":0.00019,"tot":0.00021}
    ]},
     "transform": [{"fold": ["c1","c2","c3","tot"], "as": ["k","v"]}],
     "mark": {"type": "line", "interpolate": "monotone", "color": "black", "clip": true},
     "encoding": {"detail": {"field": "k"}, "strokeWidth": {"field": "k", "type": "ordinal", "scale": {"domain": ["c1","c2","c3","tot"], "range": [0.8,0.8,0.8,1.8]}, "legend": null}}}
   ]},
  {"width": 186, "height": 52, "data": {"values": [{}]}, "mark": {"type": "text", "text": ""}},
  {"width": 186, "height": 118,
   "encoding": {
    "x": {"field": "t", "type": "quantitative", "scale": {"type": "log", "domain": [0.1, 69.5], "nice": false},
     "axis": {"values": [0.1,0.2,0.3,0.4,0.5,0.6,0.7,0.8,0.9,1,2,3,4,5,6,7,8,9,10,20,30,40,50,60], "title": null, "labelOverlap": false, "labelFlush": false, "labelPadding": 3,
      "labelExpr": "datum.value == 0.1 ? '0.1' : datum.value == 1 ? '1' : datum.value == 10 ? '10' : ''",
      "tickSize": {"condition": {"test": "datum.value == 0.1 || datum.value == 1 || datum.value == 10", "value": 7}, "value": 4}}},
    "y": {"field": "v", "type": "quantitative", "scale": {"domain": [0.0007, 0.0402], "nice": false, "zero": false}, "axis": {"values": [0.02, 0.04], "format": ".2f", "tickSize": 10, "labelPadding": 7, "title": "counts/total", "titleX": -54, "titleY": 49, "titleBaseline": "middle", "titleFontSize": 14}}
   },
   "layer": [
    {"data": {"values": [
{"t":0.1,"v":0},{"t":0.1,"v":0.0118},{"t":0.11659,"v":0.0224},{"t":0.13594,"v":0.0314},{"t":0.15849,"v":0.028},{"t":0.18478,"v":0.0269},{"t":0.21544,"v":0.0333},{"t":0.25119,"v":0.0275},{"t":0.29286,"v":0.0195},{"t":0.34146,"v":0.0286},{"t":0.39811,"v":0.0291},{"t":0.46416,"v":0.0295},{"t":0.54117,"v":0.0275},{"t":0.63096,"v":0.0358},{"t":0.73564,"v":0.0264},{"t":0.8577,"v":0.0266},{"t":1.0,"v":0.0308},{"t":1.1659,"v":0.0241},{"t":1.3594,"v":0.0295},{"t":1.5849,"v":0.0314},{"t":1.8478,"v":0.023},{"t":2.1544,"v":0.0269},{"t":2.5119,"v":0.0202},{"t":2.9286,"v":0.0241},{"t":3.4146,"v":0.0275},{"t":3.9811,"v":0.0219},{"t":4.6416,"v":0.0241},{"t":5.4117,"v":0.0236},{"t":6.3096,"v":0.0197},{"t":7.3564,"v":0.0258},{"t":8.577,"v":0.0185},{"t":10.0,"v":0.0224},{"t":11.659,"v":0.018},{"t":13.594,"v":0.013},{"t":15.849,"v":0.0121},{"t":18.478,"v":0.0127},{"t":21.544,"v":0.0096},{"t":25.119,"v":0.0085},{"t":29.286,"v":0.0051},{"t":34.146,"v":0.0051},{"t":39.811,"v":0.0029},{"t":46.416,"v":0.0016},{"t":54.117,"v":0}
    ]},
     "mark": {"type": "line", "interpolate": "step-after", "color": "#808080", "strokeWidth": 1, "clip": true},
     "encoding": {"order": {"value": null}}},
    {"data": {"values": [
{"t":0.1,"c1":0.01396,"c2":0.00212,"c3":0.0004,"tot":0.01648},
{"t":0.1259,"c1":0.01624,"c2":0.00264,"c3":0.0005,"tot":0.01938},
{"t":0.1585,"c1":0.0185,"c2":0.00327,"c3":0.00063,"tot":0.0224},
{"t":0.1995,"c1":0.02054,"c2":0.00403,"c3":0.00079,"tot":0.02536},
{"t":0.2512,"c1":0.02208,"c2":0.00496,"c3":0.00099,"tot":0.02803},
{"t":0.3162,"c1":0.02279,"c2":0.00606,"c3":0.00124,"tot":0.03009},
{"t":0.3981,"c1":0.02233,"c2":0.00733,"c3":0.00155,"tot":0.03121},
{"t":0.5012,"c1":0.02051,"c2":0.0088,"c3":0.00193,"tot":0.03124},
{"t":0.631,"c1":0.01737,"c2":0.01042,"c3":0.0024,"tot":0.03019},
{"t":0.7943,"c1":0.01327,"c2":0.01215,"c3":0.00298,"tot":0.0284},
{"t":1.0,"c1":0.0089,"c2":0.01389,"c3":0.00368,"tot":0.02647},
{"t":1.259,"c1":0.00508,"c2":0.01548,"c3":0.00453,"tot":0.02509},
{"t":1.585,"c1":0.00236,"c2":0.01672,"c3":0.00555,"tot":0.02463},
{"t":1.995,"c1":0.00085,"c2":0.01736,"c3":0.00674,"tot":0.02495},
{"t":2.512,"c1":0.00022,"c2":0.01715,"c3":0.00811,"tot":0.02548},
{"t":3.162,"c1":0.00004,"c2":0.01591,"c3":0.00965,"tot":0.0256},
{"t":3.981,"c1":0,"c2":0.01364,"c3":0.01132,"tot":0.02496},
{"t":5.012,"c1":0,"c2":0.01058,"c3":0.01302,"tot":0.0236},
{"t":6.31,"c1":0,"c2":0.00724,"c3":0.01465,"tot":0.02189},
{"t":7.943,"c1":0,"c2":0.00424,"c3":0.016,"tot":0.02024},
{"t":10.0,"c1":0,"c2":0.00203,"c3":0.01684,"tot":0.01887},
{"t":12.59,"c1":0,"c2":0.00076,"c3":0.01693,"tot":0.01769},
{"t":15.85,"c1":0,"c2":0.00021,"c3":0.01605,"tot":0.01626},
{"t":19.95,"c1":0,"c2":0.00004,"c3":0.01414,"tot":0.01418},
{"t":25.12,"c1":0,"c2":0,"c3":0.01136,"tot":0.01136},
{"t":31.62,"c1":0,"c2":0,"c3":0.00812,"tot":0.00812},
{"t":39.81,"c1":0,"c2":0,"c3":0.00502,"tot":0.00502},
{"t":50.12,"c1":0,"c2":0,"c3":0.00258,"tot":0.00258},
{"t":63.1,"c1":0,"c2":0,"c3":0.00105,"tot":0.00105}
    ]},
     "transform": [{"fold": ["c1","c2","c3","tot"], "as": ["k","v"]}],
     "mark": {"type": "line", "interpolate": "monotone", "color": "black", "clip": true},
     "encoding": {"detail": {"field": "k"}, "strokeWidth": {"field": "k", "type": "ordinal", "scale": {"domain": ["c1","c2","c3","tot"], "range": [0.8,0.8,1.3,1.8]}, "legend": null}}}
   ]},
  {"width": 186, "height": 58, "data": {"values": [{}]}, "mark": {"type": "text", "text": ""}},
  {"width": 186, "height": 114,
   "encoding": {
    "x": {"field": "t", "type": "quantitative", "scale": {"type": "log", "domain": [0.1, 69.5], "nice": false},
     "axis": {"values": [0.1,0.2,0.3,0.4,0.5,0.6,0.7,0.8,0.9,1,2,3,4,5,6,7,8,9,10,20,30,40,50,60], "title": "interval duration (ms)", "titleFontSize": 15, "titleY": 39, "titleBaseline": "middle", "labelOverlap": false, "labelFlush": false, "labelPadding": 3,
      "labelExpr": "datum.value == 0.1 ? '0.1' : datum.value == 1 ? '1' : datum.value == 10 ? '10' : ''",
      "tickSize": {"condition": {"test": "datum.value == 0.1 || datum.value == 1 || datum.value == 10", "value": 7}, "value": 4}}},
    "y": {"field": "v", "type": "quantitative", "scale": {"domain": [0.001, 0.0637], "nice": false, "zero": false}, "axis": {"values": [0.03, 0.06], "format": ".2f", "title": null, "tickSize": 10, "labelPadding": 7}}
   },
   "layer": [
    {"data": {"values": [
{"t":0.1,"v":0},{"t":0.1,"v":0.0119},{"t":0.11659,"v":0.0183},{"t":0.13594,"v":0.0248},{"t":0.15849,"v":0.022},{"t":0.18478,"v":0.0183},{"t":0.21544,"v":0.0248},{"t":0.25119,"v":0.023},{"t":0.29286,"v":0.0285},{"t":0.34146,"v":0.0174},{"t":0.39811,"v":0.0137},{"t":0.46416,"v":0.0461},{"t":0.54117,"v":0.0415},{"t":0.63096,"v":0.0387},{"t":0.73564,"v":0.0257},{"t":0.8577,"v":0.0563},{"t":1.0,"v":0.0526},{"t":1.1659,"v":0.0489},{"t":1.3594,"v":0.046},{"t":1.5849,"v":0.0378},{"t":1.8478,"v":0.0489},{"t":2.1544,"v":0.053},{"t":2.5119,"v":0.0248},{"t":2.9286,"v":0.0276},{"t":3.4146,"v":0.0274},{"t":3.9811,"v":0.0233},{"t":4.6416,"v":0.0387},{"t":5.4117,"v":0.034},{"t":6.3096,"v":0.0276},{"t":7.3564,"v":0.0202},{"t":8.577,"v":0.0248},{"t":10.0,"v":0.0156},{"t":11.659,"v":0.0119},{"t":13.594,"v":0.0026},{"t":15.849,"v":0.0007},{"t":18.478,"v":0.0063},{"t":21.544,"v":0.0035},{"t":25.119,"v":0}
    ]},
     "mark": {"type": "line", "interpolate": "step-after", "color": "#808080", "strokeWidth": 1, "clip": true},
     "encoding": {"order": {"value": null}}},
    {"data": {"values": [
{"t":0.1,"c1":0.00905,"c2":0.00206,"tot":0.01111},
{"t":0.1259,"c1":0.01105,"c2":0.00257,"tot":0.01362},
{"t":0.1585,"c1":0.01337,"c2":0.00321,"tot":0.01658},
{"t":0.1995,"c1":0.01602,"c2":0.00399,"tot":0.02001},
{"t":0.2512,"c1":0.01896,"c2":0.00495,"tot":0.02391},
{"t":0.3162,"c1":0.02208,"c2":0.00612,"tot":0.0282},
{"t":0.3981,"c1":0.0252,"c2":0.00754,"tot":0.03274},
{"t":0.5012,"c1":0.02803,"c2":0.00922,"tot":0.03725},
{"t":0.631,"c1":0.03021,"c2":0.0112,"tot":0.04141},
{"t":0.7943,"c1":0.03127,"c2":0.01347,"tot":0.04474},
{"t":1.0,"c1":0.03075,"c2":0.01602,"tot":0.04677},
{"t":1.259,"c1":0.02838,"c2":0.01876,"tot":0.04714},
{"t":1.585,"c1":0.02418,"c2":0.02157,"tot":0.04575},
{"t":1.995,"c1":0.01861,"c2":0.02423,"tot":0.04284},
{"t":2.512,"c1":0.0126,"c2":0.02643,"tot":0.03903},
{"t":3.162,"c1":0.00728,"c2":0.02778,"tot":0.03506},
{"t":3.981,"c1":0.00343,"c2":0.02785,"tot":0.03128},
{"t":5.012,"c1":0.00126,"c2":0.02634,"tot":0.0276},
{"t":6.31,"c1":0.00033,"c2":0.02312,"tot":0.02345},
{"t":7.943,"c1":0.00006,"c2":0.01849,"tot":0.01855},
{"t":10.0,"c1":0,"c2":0.01314,"tot":0.01314},
{"t":12.59,"c1":0,"c2":0.00806,"tot":0.00806},
{"t":15.85,"c1":0,"c2":0.0041,"tot":0.0041},
{"t":19.95,"c1":0,"c2":0.00165,"tot":0.00165},
{"t":25.12,"c1":0,"c2":0.0005,"tot":0.0005}
    ]},
     "transform": [{"fold": ["c1","c2","tot"], "as": ["k","v"]}],
     "mark": {"type": "line", "interpolate": "monotone", "color": "black", "clip": true},
     "encoding": {"detail": {"field": "k"}, "strokeWidth": {"field": "k", "type": "ordinal", "scale": {"domain": ["c1","c2","tot"], "range": [0.8,0.8,1.8]}, "legend": null}}}
   ]}
 ], "spacing": 0, "bounds": "flush"}
]
}
